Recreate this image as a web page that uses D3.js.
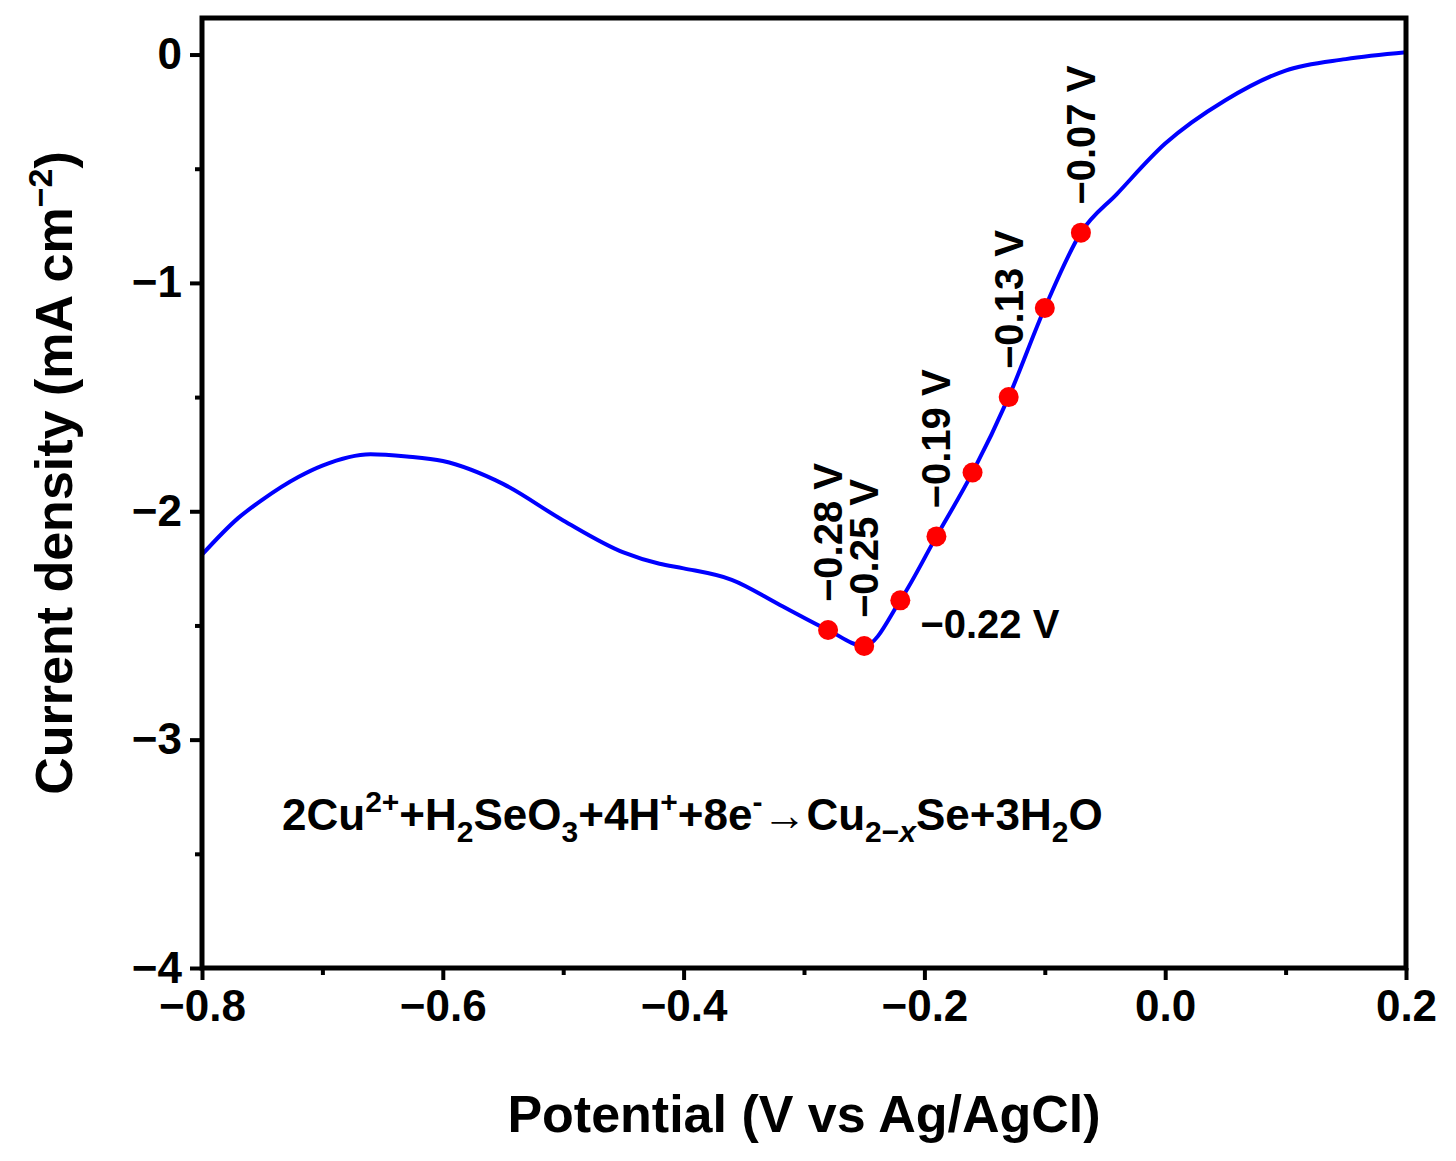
<!DOCTYPE html>
<html><head><meta charset="utf-8">
<script src="https://cdn.jsdelivr.net/npm/d3@7"></script>
<style>body{margin:0;background:#fff}text{font-family:"Liberation Sans",Arial,sans-serif;font-weight:bold}</style>
</head><body>
<svg id="chart" width="1456" height="1161"></svg>
<script>
// LSV curve
const curve = [
  [-0.8,-2.19],[-0.77,-2.03],[-0.75,-1.95],[-0.72,-1.85],[-0.7,-1.80],[-0.66,-1.75],[-0.63,-1.76],[-0.6,-1.78],
  [-0.55,-1.88],[-0.5,-2.04],[-0.45,-2.18],[-0.42,-2.23],[-0.4,-2.25],[-0.36,-2.30],
  [-0.32,-2.41],[-0.28,-2.52],[-0.25,-2.59],[-0.22,-2.39],[-0.19,-2.11],[-0.16,-1.83],
  [-0.13,-1.50],[-0.10,-1.11],[-0.07,-0.78],[-0.04,-0.61],[0,-0.39],[0.05,-0.20],
  [0.1,-0.07],[0.15,-0.02],[0.2,0.01]
];
const points = [
  {x:-0.28,y:-2.52,label:'\u22120.28 V'},{x:-0.25,y:-2.59,label:'\u22120.25 V'},
  {x:-0.22,y:-2.39,label:'\u22120.22 V',flat:true},{x:-0.19,y:-2.11,label:'\u22120.19 V'},
  {x:-0.16,y:-1.83},{x:-0.13,y:-1.50,label:'\u22120.13 V'},
  {x:-0.10,y:-1.11},{x:-0.07,y:-0.78,label:'\u22120.07 V'}
];

const mLeft = 202, mRight = 1406, mTop = 18, mBottom = 968;
const svg = d3.select('#chart');
const x = d3.scaleLinear().domain([-0.8, 0.2]).range([mLeft, mRight]);
const y = d3.scaleLinear().domain([-4, 0.16]).range([mBottom, mTop]);

// axes
const xAxis = svg.append('g').attr('transform', `translate(0,${mBottom})`)
  .call(d3.axisBottom(x).tickValues([-0.8,-0.6,-0.4,-0.2,0,0.2]).tickSize(12).tickPadding(10));
svg.append('g').attr('transform', `translate(0,${mBottom})`)
  .call(d3.axisBottom(x).tickValues([-0.7,-0.5,-0.3,-0.1,0.1]).tickFormat('').tickSize(7));
svg.append('g').attr('transform', `translate(${mLeft},0)`)
  .call(d3.axisLeft(y).tickValues([0,-1,-2,-3,-4]).tickFormat(d => d === 0 ? '0' : '\u2212' + Math.abs(d)).tickSize(12).tickPadding(8));
svg.append('g').attr('transform', `translate(${mLeft},0)`)
  .call(d3.axisLeft(y).tickValues([-0.5,-1.5,-2.5,-3.5]).tickFormat('').tickSize(7));
svg.selectAll('.domain').remove();
svg.selectAll('.tick line').attr('stroke', '#000').attr('stroke-width', 4);
svg.selectAll('.tick text').attr('font-size', 44).attr('fill', '#000');
xAxis.selectAll('.tick text').text(d => (d < -1e-9 ? '\u2212' : '') + Math.abs(d).toFixed(1));

// curve
svg.append('path').datum(curve)
  .attr('d', d3.line().x(d => x(d[0])).y(d => y(d[1])).curve(d3.curveMonotoneX))
  .attr('fill', 'none').attr('stroke', '#0000ff').attr('stroke-width', 4);

svg.selectAll('circle').data(points).enter().append('circle')
  .attr('cx', d => x(d.x)).attr('cy', d => y(d.y)).attr('r', 10).attr('fill', '#ff0000');

// labels
points.filter(d => d.label).forEach(d => {
  if (d.flat) {
    svg.append('text').attr('x', x(d.x) + 20).attr('y', y(d.y) + 38).attr('font-size', 40).text(d.label);
  } else {
    svg.append('text').attr('transform', `translate(${x(d.x) + 14},${y(d.y) - 28}) rotate(-90)`)
      .attr('font-size', 40).text(d.label);
  }
});

// frame
svg.append('rect').attr('x', mLeft).attr('y', mTop).attr('width', mRight - mLeft).attr('height', mBottom - mTop)
  .attr('fill', 'none').attr('stroke', '#000').attr('stroke-width', 5);

// equation: [text, 1 = superscript, -1 = subscript, -2 = italic subscript]
const eq = svg.append('text').attr('x', 282).attr('y', 830).attr('font-size', 44);
const parts = [['2Cu',0],['2+',1],['+H',0],['2',-1],['SeO',0],['3',-1],['+4H',0],['+',1],['+8e',0],['-',1],['\u2192Cu',0],['2\u2212',-1],['x',-2],['Se+3H',0],['2',-1],['O',0]];
let base = 0;
parts.forEach(([t, s]) => {
  const off = s === 1 ? -18 : (s < 0 ? 12 : 0);
  const ts = eq.append('tspan').text(t).attr('dy', off - base).attr('font-size', s === 0 ? 44 : 30);
  if (s === -2) ts.attr('font-style', 'italic');
  base = off;
});

// titles
svg.append('text').attr('x', (mLeft + mRight) / 2).attr('y', 1132).attr('text-anchor', 'middle')
  .attr('font-size', 52).text('Potential (V vs Ag/AgCl)');
const yt = svg.append('text').attr('transform', `translate(72,${(mTop + mBottom) / 2 - 20}) rotate(-90)`)
  .attr('text-anchor', 'middle').attr('font-size', 52);
yt.append('tspan').text('Current density (mA cm');
yt.append('tspan').text('\u22122').attr('font-size', 34).attr('dy', -20);
yt.append('tspan').text(')').attr('dy', 20);
</script>
</body></html>
